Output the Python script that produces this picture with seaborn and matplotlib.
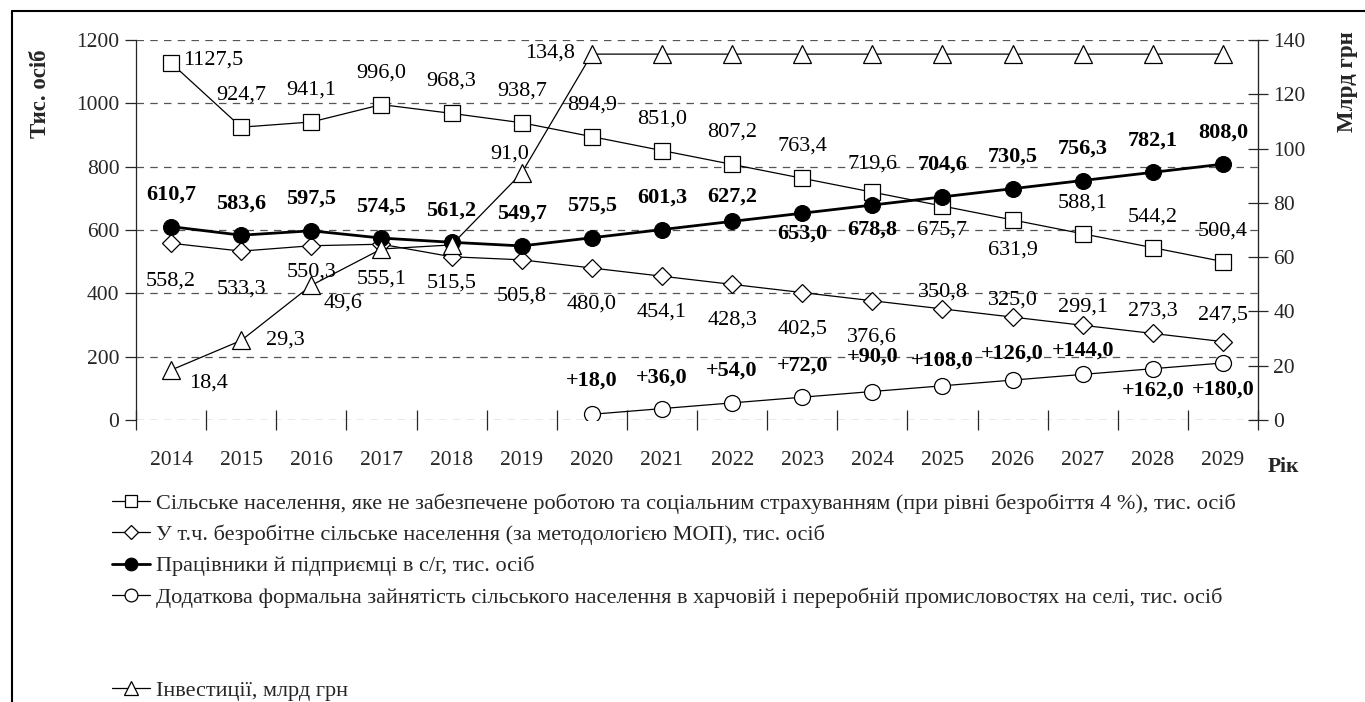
"""Rural employment scenario chart: population (left axis) and investments (right axis)."""

import matplotlib.pyplot as plt
from matplotlib.lines import Line2D
import numpy as np
import seaborn as sns

YEARS = [str(y) for y in range(2014, 2030)]

NOT_EMPLOYED = [1127.5, 924.7, 941.1, 996.0, 968.3, 938.7, 894.9, 851.0,
                807.2, 763.4, 719.6, 675.7, 631.9, 588.1, 544.2, 500.4]
UNEMPLOYED = [558.2, 533.3, 550.3, 555.1, 515.5, 505.8, 480.0, 454.1,
              428.3, 402.5, 376.6, 350.8, 325.0, 299.1, 273.3, 247.5]
WORKERS = [610.7, 583.6, 597.5, 574.5, 561.2, 549.7, 575.5, 601.3,
           627.2, 653.0, 678.8, 704.6, 730.5, 756.3, 782.1, 808.0]
EXTRA_YEARS = YEARS[6:]
EXTRA_JOBS = [18.0, 36.0, 54.0, 72.0, 90.0, 108.0, 126.0, 144.0, 162.0, 180.0]
INVEST = [18.4, 29.3, 49.6, 63.0, 64.5, 91.0, 134.8, 134.8,
          134.8, 134.8, 134.8, 134.8, 134.8, 134.8, 134.8, 134.8]
INVEST_SHOWN = [True, True, True, False, False, True, True] + [False] * 9

LABELS = [
    "Сільське населення, яке не забезпечене роботою та соціальним страхуванням "
    "(при рівні безробіття 4 %), тис. осіб",
    "У т.ч. безробітне сільське населення (за методологією МОП), тис. осіб",
    "Працівники й підприємці в с/г, тис. осіб",
    "Додаткова формальна зайнятість сільського населення в харчовій "
    "і переробній промисловостях на селі, тис. осіб",
    "Інвестиції, млрд грн",
]

# label placement (offset in points, horizontal alignment)
UP = 23
SQ_POS = [(9, 2, "left")] + [(0, UP, "center")] * 9 + [(0, 20, "center"),
          (0, -17, "center"), (0, -22, "center")] + [(0, 22, "center")] * 3
DI_POS = [(0, -27, "center"), (0, -27, "center"), (0, -19, "center"),
          (0, -25, "center"), (0, -19, "center")] + [(0, -26, "center")] * 6 + \
         [(0, 12, "center"), (0, 12, "center"), (0, 13, "center"),
          (0, 16, "center"), (0, 19, "center")]
WK_POS = [(0, UP, "center")] * 8 + [(0, 18, "center"), (0, -15, "center"),
          (0, -18, "center")] + [(0, UP, "center")] * 5
EX_POS = [(0, 24, "center"), (0, 22, "center"), (0, 23, "center"),
          (0, 23, "center"), (0, 25, "center"), (0, 18, "center"),
          (0, 19, "center"), (0, 17, "center"), (0, -16, "center"),
          (0, -19, "center")]
IN_POS = [(13, -9, "left"), (18, 0, "left"), (9, -13, "left"), None, None,
          (5, 14, "right"), (-12, 1, "right")] + [None] * 9

sns.set_style("white")
plt.rcParams["font.family"] = ["Liberation Serif", "DejaVu Serif"]

fig = plt.figure(figsize=(13.65, 7.02), dpi=100)
ax = fig.add_axes([136 / 1365, 1 - 420 / 702, 1122 / 1365, 380 / 702])
ax2 = ax.twinx()

x_all = np.arange(len(YEARS))
x_extra = np.arange(6, 16)

thin = dict(color="black", linewidth=0.9, markeredgecolor="black",
            markeredgewidth=0.9, markerfacecolor="white")
sns.lineplot(x=x_all, y=NOT_EMPLOYED, ax=ax, marker="s", markersize=11.5,
             label=LABELS[0], legend=False, **thin)
sns.lineplot(x=x_all, y=UNEMPLOYED, ax=ax, marker="D", markersize=9,
             label=LABELS[1], legend=False, **thin)
sns.lineplot(x=x_all, y=WORKERS, ax=ax, marker="o", markersize=11.5,
             color="black", linewidth=2.0, markeredgecolor="black",
             markerfacecolor="black", label=LABELS[2], legend=False)
sns.lineplot(x=x_extra, y=EXTRA_JOBS, ax=ax, marker="o", markersize=11.5,
             label=LABELS[3], legend=False, **thin)
sns.lineplot(x=x_all, y=INVEST, ax=ax2, marker="^", markersize=12.5,
             label=LABELS[4], legend=False, **thin)


def fmt(v, sign=False):
    s = f"{v:.1f}".replace(".", ",")
    return "+" + s if sign else s


def put_labels(axis, xs, vals, positions, bold=False, sign=False, shown=None):
    for i, (x, v, pos) in enumerate(zip(xs, vals, positions)):
        if pos is None or (shown is not None and not shown[i]):
            continue
        dx, dy, ha = pos
        axis.annotate(fmt(v, sign), (x, v), xytext=(dx, dy),
                      textcoords="offset points", ha=ha, va="center",
                      fontsize=16, fontweight="bold" if bold else "normal",
                      color="black", zorder=10)


put_labels(ax, x_all, NOT_EMPLOYED, SQ_POS)
put_labels(ax, x_all, UNEMPLOYED, DI_POS)
put_labels(ax, x_all, WORKERS, WK_POS, bold=True)
put_labels(ax, x_extra, EXTRA_JOBS, EX_POS, bold=True, sign=True)
put_labels(ax2, x_all, INVEST, IN_POS, shown=INVEST_SHOWN)

# axes, ticks, grid
ax.set_xlim(-0.5, 15.5)
ax.set_ylim(0, 1200)
ax2.set_ylim(0, 140)
ax.set_yticks(range(0, 1201, 200))
ax2.set_yticks(range(0, 141, 20))
ax.set_xticks(x_all)
ax.set_xticklabels(YEARS)
ax.set_xticks(np.arange(-0.5, 16, 1), minor=True)
ax.tick_params(axis="x", which="major", length=0, pad=22, labelsize=15.5)
ax.tick_params(axis="x", which="minor", direction="inout", length=14,
               width=0.9, bottom=True)
ax.tick_params(axis="y", direction="out", length=8, width=0.9, left=True,
               labelsize=15.5, pad=4)
ax2.tick_params(axis="y", direction="inout", length=14, width=0.9,
                right=True, labelsize=15.5, pad=4)
ax.yaxis.grid(True, linestyle=(0, (6, 5)), color="#555555", linewidth=0.9)
ax.set_axisbelow(True)
for a in (ax, ax2):
    a.spines["top"].set_visible(False)
    a.spines["bottom"].set_visible(False)
    a.set_xlabel("")
    a.set_ylabel("")
ax.spines["left"].set_linewidth(0.9)
ax2.spines["right"].set_linewidth(0.9)
ax2.spines["left"].set_visible(False)

fig.text(40 / 1365, 1 - 94 / 702, "Тис. осіб", rotation=90, ha="center",
         va="center", fontsize=16.5, fontweight="bold")
fig.text(1347 / 1365, 1 - 82 / 702, "Млрд грн", rotation=90, ha="center",
         va="center", fontsize=16.5, fontweight="bold")
fig.text(1283 / 1365, 1 - 467 / 702, "Рік", ha="center", va="center",
         fontsize=15.5, fontweight="bold")

# legends
leg_style = dict(loc="upper left", frameon=False, fontsize=16,
                 handlelength=1.7, handletextpad=0.3, labelspacing=0.49,
                 borderpad=0, borderaxespad=0, markerscale=0.8)
fig.legend(ax.get_lines()[:4], LABELS[:4],
           bbox_to_anchor=(112 / 1365, 1 - 493 / 702), **leg_style)
fig.legend(ax2.get_lines()[:1], LABELS[4:],
           bbox_to_anchor=(112 / 1365, 1 - 680 / 702), **leg_style)

# outer frame
fig.add_artist(Line2D([12 / 1365, 12 / 1365], [0, 1 - 11 / 702],
                      color="black", linewidth=1.5))
fig.add_artist(Line2D([12 / 1365, 1], [1 - 11 / 702, 1 - 11 / 702],
                      color="black", linewidth=1.5))

fig.savefig("out.png", dpi=100)
